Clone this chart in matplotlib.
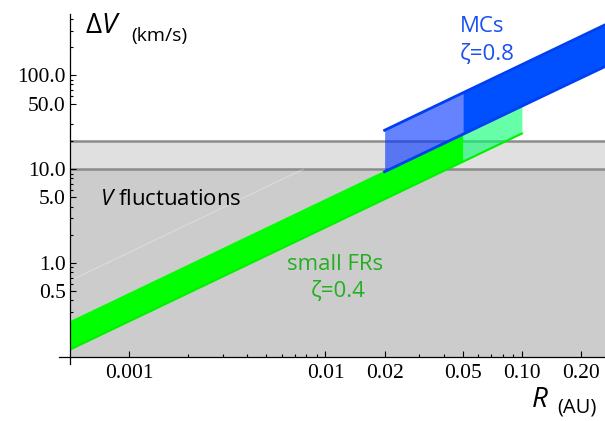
import matplotlib
matplotlib.use('Agg')
import matplotlib.pyplot as plt
from matplotlib.ticker import NullFormatter

plt.rcParams['font.family'] = ['Open Sans', 'DejaVu Sans']
plt.rcParams['mathtext.fontset'] = 'custom'
plt.rcParams['mathtext.rm'] = 'Open Sans'
plt.rcParams['mathtext.it'] = 'Open Sans:italic'

# small flux ropes band (zeta = 0.4), R in AU, dV in km/s
fr_R = [0.0005, 0.02, 0.05, 0.1]
fr_low = [0.12, 4.8, 12.0, 24.0]
fr_high = [0.245, 9.8, 24.5, 49.0]

# magnetic clouds band (zeta = 0.8)
mc_R = [0.02, 0.05, 0.1, 0.265]
mc_low = [9.4, 23.5, 47.0, 124.0]
mc_high = [26.0, 65.0, 130.0, 345.0]

# faint ghost of the MC upper edge in the grey zone
ghost_R = [0.0005, 0.0077]
ghost_V = [0.65, 10.0]

# V fluctuation levels
fluct_low = 10
fluct_high = 20

xticks = [0.001, 0.01, 0.02, 0.05, 0.1, 0.2]
xticklabels = ['0.001', '0.01', '0.02', '0.05', '0.10', '0.20']
xminor = [0.002, 0.003, 0.004, 0.005, 0.006, 0.007, 0.008, 0.009,
          0.03, 0.04, 0.06, 0.07, 0.08, 0.09]
yticks = [0.5, 1, 5, 10, 50, 100]
yticklabels = ['0.5', '1.0', '5.0', '10.0', '50.0', '100.0']
yminor = [0.2, 0.3, 0.4, 0.6, 0.7, 0.8, 0.9, 2, 3, 4, 6, 7, 8, 9,
          20, 30, 60, 70, 80, 90, 200, 300, 400]

W, H = 605, 421
fig = plt.figure(figsize=(W / 100, H / 100), dpi=100)
ax = fig.add_axes([70 / W, 64 / H, 535 / W, 343 / H])
ax.set_xscale('log')
ax.set_yscale('log')
ax.set_xlim(0.0005, 0.265)
ax.set_ylim(0.1, 450)

# grey zones
ax.axhspan(0.1, fluct_low, color='#cccccc', lw=0, zorder=0)
ax.axhspan(fluct_low, fluct_high, color='#e0e0e0', lw=0, zorder=0)
ax.axhline(fluct_low, color='#8c8c8c', lw=1.8, zorder=1)
ax.axhline(fluct_high, color='#8c8c8c', lw=1.8, zorder=1)
ax.plot(ghost_R, ghost_V, color='white', lw=0.8, alpha=0.3, zorder=1)

# small FRs
ax.fill_between(fr_R[:3], fr_low[:3], fr_high[:3], color='#00ff00', lw=0, zorder=2)
ax.fill_between(fr_R[2:], fr_low[2:], fr_high[2:], color='#00ff6e', alpha=0.6, lw=0, zorder=2)
ax.plot(fr_R, fr_low, color='#00f000', lw=1.5, zorder=3)

# MCs
ax.fill_between(mc_R[:2], mc_low[:2], mc_high[:2], color='#0030ff', alpha=0.6, lw=0, zorder=4)
ax.fill_between(mc_R[1:], mc_low[1:], mc_high[1:], color='#0050ff', lw=0, zorder=4)
ax.plot(mc_R, mc_low, color='#0040f0', lw=2, zorder=5)
ax.plot(mc_R, mc_high, color='#0040f0', lw=2, zorder=5)

# axes look
for s in ['top', 'right']:
    ax.spines[s].set_visible(False)
ax.spines['bottom'].set_bounds(0.00044, 0.265)
ax.spines['left'].set_bounds(0.084, 450)
for s in ['bottom', 'left']:
    ax.spines[s].set_linewidth(0.9)
    ax.spines[s].set_zorder(6)

ax.set_xticks(xticks, xticklabels, fontfamily='Liberation Serif', fontsize=15.5)
ax.set_xticks(xminor, minor=True)
ax.set_yticks(yticks, yticklabels, fontfamily='Liberation Serif', fontsize=15.5)
ax.set_yticks(yminor, minor=True)
ax.xaxis.set_minor_formatter(NullFormatter())
ax.yaxis.set_minor_formatter(NullFormatter())
ax.tick_params(which='both', direction='in', width=0.8, color='black')
ax.tick_params(which='major', length=4)
ax.tick_params(which='minor', length=2.5)
ax.tick_params(axis='x', pad=5)
ax.tick_params(axis='y', pad=3)


def fx(x):
    return x / W


def fy(y):
    return 1 - y / H


# axis labels
fig.text(fx(85), fy(33), 'Δ$\\mathit{V}$', fontsize=20, va='baseline')
fig.text(fx(131), fy(41), '(km/s)', fontsize=14, va='baseline')
fig.text(fx(532), fy(407), 'R', fontsize=20, fontstyle='italic', va='baseline')
fig.text(fx(557), fy(412), '(AU)', fontsize=14.5, va='baseline')

# annotations
ax.text(fx(100), fy(205), '$\\mathit{V}$ fluctuations', fontsize=16,
        va='baseline', color='black', transform=fig.transFigure, zorder=7)
ax.text(fx(335), fy(270), 'small FRs', fontsize=16, ha='center', va='baseline',
        color='#22b022', transform=fig.transFigure, zorder=7)
ax.text(fx(338), fy(297), 'ζ=0.4', fontsize=16, ha='center', va='baseline',
        color='#22b022', transform=fig.transFigure, zorder=7)
ax.text(fx(460), fy(32), 'MCs', fontsize=16, va='baseline',
        color='#1a50f0', transform=fig.transFigure, zorder=7)
ax.text(fx(460), fy(60), 'ζ=0.8', fontsize=16, va='baseline',
        color='#1a50f0', transform=fig.transFigure, zorder=7)

fig.savefig('out.png', dpi=100)
